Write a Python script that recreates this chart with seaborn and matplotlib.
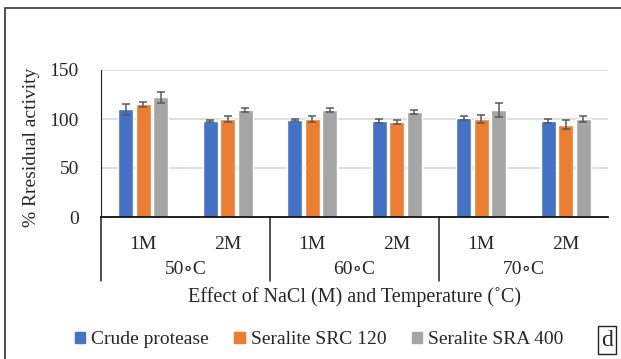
import matplotlib
matplotlib.use("Agg")
import matplotlib.pyplot as plt
import numpy as np
import pandas as pd
import seaborn as sns
from matplotlib.patches import Rectangle
from matplotlib.transforms import blended_transform_factory

# data
temps = ["50∘C", "60∘C", "70∘C"]
concs = ["1M", "2M"]
series = ["Crude protease", "Seralite SRC 120", "Seralite SRA 400"]
crude = [110, 98, 99, 98, 101, 98]
src120 = [115, 100, 100, 97, 100, 94]
sra400 = [122, 109, 109, 107, 109, 100]
crude_err = [5.5, 1, 1, 2, 2, 2]
src120_err = [2.5, 3, 3, 2, 4.5, 4.5]
sra400_err = [6, 2, 2, 2, 7, 3.5]
colors = ["#4472C4", "#ED7D31", "#A5A5A5"]

cats = [t + c for t in temps for c in concs]
df = pd.DataFrame({
    "cat": cats * 3,
    "series": np.repeat(series, len(cats)),
    "value": crude + src120 + sra400,
})
errs = [crude_err, src120_err, sra400_err]

sns.set_style("white")
plt.rcParams["font.family"] = ["Liberation Serif", "DejaVu Serif", "DejaVu Sans"]
fs = 14

fig = plt.figure(figsize=(6.21, 3.59), dpi=100)
ax = fig.add_axes([101 / 621, 1 - 217 / 359, 507 / 621, 147 / 359])

sns.barplot(data=df, x="cat", y="value", hue="series", order=cats,
            hue_order=series, palette=colors, saturation=1, width=0.62,
            gap=0.15, errorbar=None, legend=False, ax=ax)

# error bars on the bars seaborn drew
for cont, e in zip(ax.containers, errs):
    xs = [p.get_x() + p.get_width() / 2 for p in cont]
    hs = [p.get_height() for p in cont]
    ax.errorbar(xs, hs, yerr=e, fmt="none", ecolor="#595959", elinewidth=1.1,
                capsize=2.8, capthick=1.1, zorder=4)

ax.set_ylim(0, 150)
ax.set_xlim(-0.5, len(cats) - 0.5)
ax.set_yticks([0, 50, 100, 150])
ax.yaxis.grid(True, color="#D9D9D9", linewidth=1.2)
ax.set_axisbelow(True)
for s in ["top", "right"]:
    ax.spines[s].set_visible(False)
ax.spines["left"].set_color("#222222")
ax.spines["bottom"].set_color("#111111")
ax.spines["bottom"].set_linewidth(1.3)
ax.tick_params(axis="y", length=0, pad=16, labelsize=fs)
ax.tick_params(axis="x", length=0, pad=14, labelsize=fs)
ax.set_xticks(range(len(cats)))
ax.set_xticklabels(concs * len(temps))
ax.set_xlabel("")
ax.set_ylabel("% Rresidual activity", fontsize=fs)
ax.yaxis.set_label_coords(-0.12, 0.476)

# temperature group labels and separators
tr = blended_transform_factory(ax.transData, ax.transAxes)
for i, t in enumerate(temps):
    ax.text(2 * i + 0.5, -0.36, t, transform=tr, ha="center", va="center",
            fontsize=fs)
for xb in [-0.5, 1.5, 3.5]:
    ax.plot([xb, xb], [0, -0.435], transform=tr, color="#222222",
            linewidth=1.1, clip_on=False)

fig.text(0.5 * (101 + 608) / 621, 1 - 297 / 359,
         "Effect of NaCl (M) and Temperature (˚C)", ha="center", va="center",
         fontsize=14.5)

handles = [Rectangle((0, 0), 1, 1, color=c) for c in colors]
fig.legend(handles, series, loc="center", bbox_to_anchor=(319 / 621, 1 - 340 / 359),
           ncol=3, frameon=False, fontsize=fs, handlelength=0.55,
           handleheight=0.55, handletextpad=0.3, columnspacing=1.3)

fig.text(607 / 621, 1 - 340 / 359, "d", ha="center", va="center", fontsize=17,
         bbox=dict(boxstyle="square,pad=0.15", fc="white", ec="#222222", lw=1))

fig.patches.append(Rectangle((5 / 621, -0.1), 1.2, 1.1 - 8 / 359,
                             transform=fig.transFigure, fill=False,
                             ec="#333333", lw=1.2))

fig.savefig("out.png", dpi=100)
